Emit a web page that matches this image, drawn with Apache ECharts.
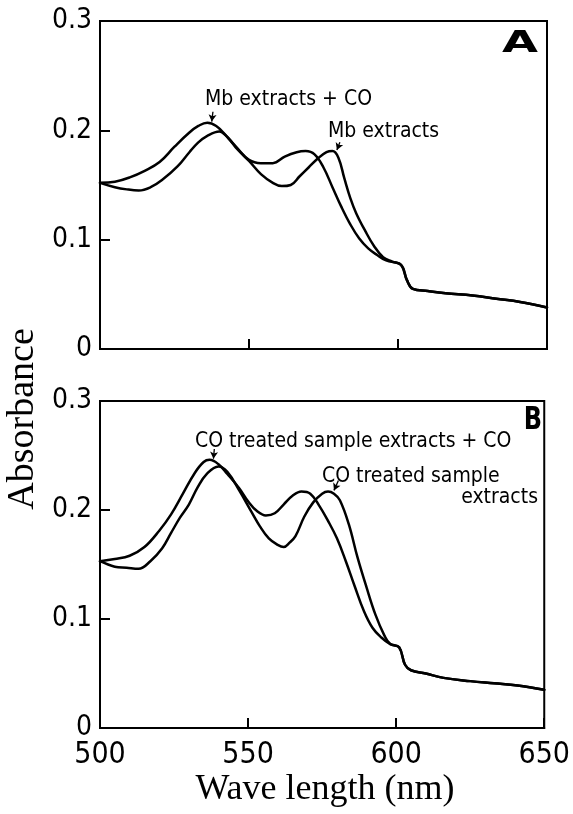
<!DOCTYPE html>
<html>
<head>
<meta charset="utf-8">
<script src="https://cdn.jsdelivr.net/npm/echarts@6/dist/echarts.min.js"></script>
<style>
html,body{margin:0;padding:0;background:#fff;}
#chart{width:573px;height:814px;}
</style>
</head>
<body>
<div id="chart"></div>
<script>
// X axis ticks and Y axis ticks
const xTicks = [500, 550, 600, 650];
const yTicks = [0, 0.1, 0.2, 0.3];

// Panel A: Mb extracts + CO
const A_CO_WL  = [500,505,510,515,520,525,530,533,536,539,542,546,550,554,558,562,566,569,572,575,578,581,584,587,590,593,596,601,603,605,610,616,625,633,641,650];
const A_CO_ABS = [0.152,0.153,0.157,0.163,0.171,0.185,0.198,0.204,0.207,0.204,0.196,0.184,0.173,0.170,0.170,0.176,0.180,0.181,0.178,0.166,0.148,0.130,0.114,0.101,0.092,0.086,0.081,0.077,0.063,0.055,0.053,0.051,0.049,0.046,0.043,0.038];
// Panel A: Mb extracts
const A_MB_WL  = [500,505,509,513,517,521,526,530,533,536,540,543,546,550,554,558,561,564,567,570,573,576,578,580,582,584,586,589,592,595,598,601,603,605,610,616,625,633,641,650];
const A_MB_ABS = [0.152,0.148,0.146,0.145,0.148,0.155,0.167,0.180,0.189,0.195,0.199,0.193,0.183,0.172,0.160,0.152,0.149,0.150,0.158,0.166,0.174,0.180,0.181,0.175,0.156,0.138,0.124,0.108,0.094,0.084,0.080,0.077,0.063,0.055,0.053,0.051,0.049,0.046,0.043,0.038];

// Panel B: CO treated sample extracts + CO
const B_CO_WL  = [500,505,510,515,520,524,528,532,535,537,540,543,547,550,553,556,559,562,565,568,571,574,577,580,583,586,589,592,595,598,601,603,605,610,616,625,633,641,650];
const B_CO_ABS = [0.153,0.155,0.158,0.166,0.181,0.196,0.215,0.234,0.244,0.246,0.242,0.233,0.220,0.208,0.199,0.195,0.197,0.205,0.213,0.217,0.215,0.204,0.190,0.174,0.153,0.130,0.108,0.092,0.083,0.077,0.074,0.058,0.053,0.050,0.046,0.043,0.041,0.039,0.035];
// Panel B: CO treated sample extracts
const B_CT_WL  = [500,505,509,513,517,521,524,527,530,533,536,540,543,547,551,554,557,560,562,564,566,569,572,575,577,579,581,584,587,590,593,596,598,601,603,605,610,616,625,633,641,650];
const B_CT_ABS = [0.153,0.148,0.147,0.146,0.153,0.165,0.179,0.193,0.205,0.221,0.233,0.240,0.235,0.218,0.199,0.185,0.174,0.168,0.166,0.170,0.176,0.194,0.207,0.215,0.217,0.215,0.209,0.187,0.156,0.129,0.104,0.085,0.077,0.074,0.058,0.053,0.050,0.046,0.043,0.041,0.039,0.035];

function zip(xs, ys){ return xs.map((x,i)=>[x, ys[i]]); }

const chart = echarts.init(document.getElementById('chart'), null, {renderer:'canvas'});
const sansFont = "'Liberation Sans Narrow','DejaVu Sans Condensed','Liberation Sans',sans-serif";
const serifFont = "'Liberation Serif','DejaVu Serif',serif";

function xAxisCfg(gi, showLabels){
  return {
    type:'value', gridIndex:gi, min:xTicks[0], max:xTicks[xTicks.length-1], interval:50,
    axisLine:{show:true, lineStyle:{color:'#000', width:2}},
    axisTick:{show:true, inside:true, length:10, lineStyle:{color:'#000', width:2}},
    axisLabel:{show:showLabels, color:'#000', fontSize:30, fontFamily:sansFont, margin:12},
    splitLine:{show:false}
  };
}
function yAxisCfg(gi){
  return {
    type:'value', gridIndex:gi, min:yTicks[0], max:yTicks[yTicks.length-1], interval:0.1,
    axisLine:{show:true, lineStyle:{color:'#000', width:2}},
    axisTick:{show:true, inside:true, length:10, lineStyle:{color:'#000', width:2}},
    axisLabel:{show:true, color:'#000', fontSize:28, fontFamily:sansFont, margin:8,
      formatter: v => v === 0 ? '0' : v.toFixed(1)},
    splitLine:{show:false}
  };
}
function lineSeries(name, data, xi, arrow){
  const s = {
    name, type:'line', xAxisIndex:xi, yAxisIndex:xi, data, showSymbol:false,
    smooth:0.4,
    lineStyle:{color:'#000', width:2.5, join:'round', cap:'round'}, itemStyle:{color:'#000'}, silent:true
  };
  if (arrow) {
    s.markLine = {
      silent:true, symbol:['none','arrow'], symbolSize:[6,7],
      lineStyle:{color:'#000', width:1.3, type:'solid'}, label:{show:false},
      data:[[{coord:arrow[0]},{coord:arrow[1]}]]
    };
  }
  return s;
}

const option = {
  animation:false,
  backgroundColor:'#fff',
  grid:[
    {left:100, right:26, top:21, height:328, show:true, borderColor:'#000', borderWidth:2},
    {left:100, right:26, top:401, height:327, show:true, borderColor:'#000', borderWidth:2}
  ],
  xAxis:[xAxisCfg(0,false), xAxisCfg(1,true)],
  yAxis:[yAxisCfg(0), yAxisCfg(1)],
  series:[
    lineSeries('Mb extracts + CO', zip(A_CO_WL, A_CO_ABS), 0, [[537.9,0.217],[537.5,0.208]]),
    lineSeries('Mb extracts', zip(A_MB_WL, A_MB_ABS), 0, [[580.5,0.189],[579.5,0.182]]),
    lineSeries('CO treated sample extracts + CO', zip(B_CO_WL, B_CO_ABS), 1, [[538.6,0.256],[538.3,0.247]]),
    lineSeries('CO treated sample extracts', zip(B_CT_WL, B_CT_ABS), 1, [[580.5,0.227],[579.0,0.218]])
  ],
  graphic:[
    {type:'text', left:205, top:89, style:{text:'Mb extracts + CO', font:"21px "+sansFont, fill:'#000'}},
    {type:'text', left:328, top:121, style:{text:'Mb extracts', font:"21px "+sansFont, fill:'#000'}},
    {type:'text', left:195, top:431, style:{text:'CO treated sample extracts + CO', font:"21px "+sansFont, fill:'#000'}},
    {type:'text', left:322, top:466, style:{text:'CO treated sample', font:"21px "+sansFont, fill:'#000'}},
    {type:'text', right:35, top:487, style:{text:'extracts', font:"21px "+sansFont, fill:'#000'}},
    {type:'text', x:520, y:44, scaleX:1.5, style:{text:'A', font:"900 31px 'DejaVu Sans',sans-serif", fill:'#000', align:'center', verticalAlign:'middle'}},
    {type:'text', x:533, y:421, scaleX:0.75, style:{text:'B', font:"900 32px 'DejaVu Sans',sans-serif", fill:'#000', align:'center', verticalAlign:'middle'}},
    {type:'text', x:23, y:419, rotation:Math.PI/2, style:{text:'Absorbance', font:"38px "+serifFont, fill:'#000', align:'center', verticalAlign:'middle'}},
    {type:'text', x:325, y:790, style:{text:'Wave length (nm)', font:"36px "+serifFont, fill:'#000', align:'center', verticalAlign:'middle'}}
  ]
};
chart.setOption(option);
</script>
</body>
</html>
